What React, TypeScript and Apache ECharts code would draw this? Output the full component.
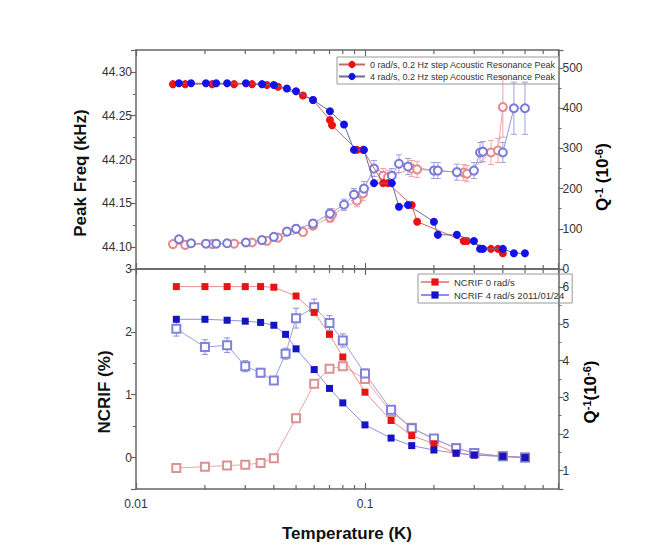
import React, { useEffect, useRef } from 'react';
import * as echarts from 'echarts';

// ---------- data ----------
const xMinorTicks = [0.02, 0.03, 0.04, 0.05, 0.06, 0.07, 0.08, 0.09, 0.2, 0.3, 0.4, 0.5, 0.6];

const legendTop = ['0 rad/s, 0.2 Hz step Acoustic Resonance Peak', '4 rad/s, 0.2 Hz step Acoustic Resonance Peak'];
const legendBottom = ['NCRIF 0 rad/s', 'NCRIF 4 rad/s 2011/01/24'];

// top panel, 0 rad/s
const topRedT = [0.0145, 0.0164, 0.0215, 0.0268, 0.0321, 0.0373, 0.0417, 0.0536, 0.0593, 0.0703, 0.0718, 0.0923, 0.098, 0.12, 0.126, 0.16, 0.169, 0.27, 0.279, 0.355, 0.381, 0.4];
const topRedFreq = [44.286, 44.286, 44.286, 44.286, 44.286, 44.285, 44.283, 44.273, 44.268, 44.245, 44.239, 44.211, 44.211, 44.173, 44.173, 44.148, 44.129, 44.107, 44.107, 44.098, 44.098, 44.093];
const topRedQ = [62, 60, 62, 63, 66, 70, 78, 92, 108, 128, 135, 170, 188, 232, 228, 250, 248, 240, 237, 290, 295, 403];
const topRedQErr = [6, 6, 6, 6, 7, 7, 8, 10, 10, 12, 15, 15, 18, 18, 18, 20, 20, 20, 20, 30, 30, 75];

// top panel, 4 rad/s
const topBlueT = [0.0154, 0.0174, 0.0202, 0.0224, 0.025, 0.0302, 0.0355, 0.04, 0.0456, 0.05, 0.0593, 0.0703, 0.081, 0.0895, 0.099, 0.1095, 0.131, 0.1407, 0.1541, 0.2, 0.208, 0.252, 0.299, 0.318, 0.3275, 0.4, 0.447, 0.4996];
const topBlueFreq = [44.287, 44.287, 44.287, 44.287, 44.287, 44.287, 44.286, 44.285, 44.281, 44.278, 44.268, 44.255, 44.24, 44.211, 44.211, 44.173, 44.173, 44.146, 44.148, 44.129, 44.114, 44.114, 44.107, 44.098, 44.098, 44.098, 44.093, 44.093];
const topBlueQ = [74, 64, 63, 63, 64, 66, 72, 80, 93, 100, 113, 138, 160, 185, 200, 250, 232, 262, 255, 245, 245, 241, 245, 290, 292, 290, 400, 400];
const topBlueQErr = [8, 6, 6, 6, 6, 6, 7, 8, 9, 10, 10, 12, 14, 15, 18, 20, 18, 22, 20, 20, 20, 20, 20, 25, 25, 25, 65, 65];

// bottom panel, 0 rad/s
const botRedT = [0.015, 0.02, 0.025, 0.03, 0.035, 0.04, 0.05, 0.06, 0.07, 0.08, 0.1, 0.13, 0.16, 0.2, 0.25, 0.3, 0.4, 0.5];
const botRedN = [2.72, 2.72, 2.72, 2.72, 2.72, 2.71, 2.57, 2.31, 1.96, 1.6, 1.04, 0.59, 0.35, 0.22, 0.07, 0.04, 0.02, 0.0];
const botRedQ = [1.07, 1.11, 1.14, 1.16, 1.21, 1.34, 2.43, 3.37, 3.78, 3.85, 3.5, 2.6, 2.17, 1.85, 1.62, 1.48, 1.39, 1.36];

// bottom panel, 4 rad/s
const botBlueT = [0.015, 0.02, 0.025, 0.03, 0.035, 0.04, 0.045, 0.05, 0.06, 0.07, 0.08, 0.1, 0.13, 0.16, 0.2, 0.25, 0.3, 0.4, 0.5];
const botBlueN = [2.2, 2.2, 2.185, 2.17, 2.15, 2.105, 1.96, 1.73, 1.4, 1.1, 0.87, 0.52, 0.31, 0.19, 0.12, 0.07, 0.04, 0.02, 0.0];
const botBlueQ = [4.87, 4.37, 4.42, 3.85, 3.67, 3.46, 4.19, 5.16, 5.46, 5.03, 4.55, 3.65, 2.66, 2.16, 1.88, 1.61, 1.48, 1.39, 1.36];
const botBlueQErr = [0.2, 0.2, 0.2, 0.15, 0.12, 0.1, 0.15, 0.27, 0.22, 0.2, 0.18, 0.12, 0.08, 0.07, 0.05, 0.04, 0.03, 0.03, 0.03];

// ---------- helpers ----------
const FONT = 'Liberation Sans, Arial, Helvetica, sans-serif';
const AXIS = '#666';

const zip = (a: number[], b: number[]) => a.map((v, i) => [v, b[i]]);
const errData = (t: number[], v: number[], e: number[]) => t.map((x, i) => [x, v[i] - e[i], v[i] + e[i]]);

const errRender = (color: string) => (params: any, api: any) => {
  const x = api.value(0);
  const a = api.coord([x, api.value(1)]);
  const b = api.coord([x, api.value(2)]);
  const w = 3;
  const style = { stroke: color, lineWidth: 1 };
  return {
    type: 'group',
    children: [
      { type: 'line', shape: { x1: a[0], y1: a[1], x2: b[0], y2: b[1] }, style },
      { type: 'line', shape: { x1: a[0] - w, y1: a[1], x2: a[0] + w, y2: a[1] }, style },
      { type: 'line', shape: { x1: b[0] - w, y1: b[1], x2: b[0] + w, y2: b[1] }, style },
    ],
  };
};

const minorRender = (params: any, api: any) => {
  const cs = params.coordSys;
  const px = api.coord([api.value(0), api.value(1)])[0];
  const style = { stroke: AXIS, lineWidth: 1.2 };
  return {
    type: 'group',
    children: [
      { type: 'line', shape: { x1: px, y1: cs.y + cs.height, x2: px, y2: cs.y + cs.height - 4 }, style },
      { type: 'line', shape: { x1: px, y1: cs.y, x2: px, y2: cs.y + 4 }, style },
    ],
  };
};

const isMult = (v: number, step: number) => Math.abs(v / step - Math.round(v / step)) < 1e-6;

const xAxisBase = (grid: number, pos: 'top' | 'bottom', labels: boolean) => ({
  type: 'log',
  logBase: 10,
  gridIndex: grid,
  position: pos,
  min: 0.01,
  max: 0.7,
  axisLine: { show: true, onZero: false, lineStyle: { color: AXIS, width: 1.5 } },
  axisTick: { show: true, inside: true, length: 6, lineStyle: { color: AXIS, width: 1.2 } },
  splitLine: { show: false },
  axisLabel: {
    show: labels,
    fontSize: 12,
    color: '#333',
    fontFamily: FONT,
    margin: 9,
    formatter: (v: number) => {
      const e = Math.log10(v);
      if (Math.abs(e - Math.round(e)) < 1e-6) {
        return Math.round(e) === -2 ? '0.01' : Math.round(e) === -1 ? '0.1' : String(Math.pow(10, Math.round(e)));
      }
      return '';
    },
  },
});

const yAxisBase = (grid: number, pos: 'left' | 'right', min: number, max: number, step: number, fmt: (v: number) => string) => ({
  type: 'value',
  gridIndex: grid,
  position: pos,
  min,
  max,
  splitNumber: Math.round((max - min) / step),
  axisLine: { show: true, lineStyle: { color: AXIS, width: 1.5 } },
  axisTick: { show: true, inside: false, length: 5, lineStyle: { color: AXIS, width: 1.2 } },
  minorTick: { show: true, splitNumber: 2, length: 3, lineStyle: { color: AXIS, width: 1 } },
  splitLine: { show: false },
  axisLabel: {
    fontSize: 12,
    color: '#333',
    fontFamily: FONT,
    margin: 4,
    formatter: (v: number) => (isMult(v, step) ? fmt(v) : ''),
  },
});

const titleRich = {
  b: { fontSize: 17, fontWeight: 'bold', fontFamily: FONT, color: '#111' },
  s: { fontSize: 11, fontWeight: 'bold', fontFamily: FONT, color: '#111', verticalAlign: 'top', padding: [0, 0, 6, 0] },
};

const openLine = (name: string, xi: number, yi: number, data: number[][], symbol: string, color: string, lineColor: string) => ({
  type: 'line', name, xAxisIndex: xi, yAxisIndex: yi, data,
  symbol, symbolSize: 8, showAllSymbol: true, color,
  itemStyle: { color, borderWidth: 1.2 },
  lineStyle: { color: lineColor, width: 1 }, z: 3,
});

const filledLine = (name: string, xi: number, yi: number, data: number[][], symbol: string, size: number, color: string, lineColor: string, z: number) => ({
  type: 'line', name, xAxisIndex: xi, yAxisIndex: yi, data,
  symbol, symbolSize: size, showAllSymbol: true, color,
  itemStyle: { color },
  lineStyle: { color: lineColor, width: 1 }, z,
});

export default function App() {
  const ref = useRef<HTMLDivElement>(null);
  useEffect(() => {
    document.body.style.margin = '0';
    if (!ref.current) return;
    const chart = echarts.init(ref.current, undefined, { renderer: 'svg' });

    const option: any = {
      animation: false,
      backgroundColor: '#ffffff',
      textStyle: { fontFamily: FONT },
      grid: [
        { left: 136, top: 50, width: 422.5, height: 219 },
        { left: 136, top: 269, width: 422.5, height: 220 },
      ],
      xAxis: [
        xAxisBase(0, 'bottom', false),
        xAxisBase(0, 'top', false),
        xAxisBase(1, 'bottom', true),
        xAxisBase(1, 'top', false),
      ],
      yAxis: [
        yAxisBase(0, 'left', 44.075, 44.325, 0.05, (v) => v.toFixed(2)),
        yAxisBase(0, 'right', 0, 545, 100, (v) => String(Math.round(v))),
        yAxisBase(1, 'left', -0.5, 3, 1, (v) => String(Math.round(v))),
        yAxisBase(1, 'right', 0.5, 6.5, 1, (v) => String(Math.round(v))),
      ],
      legend: [
        {
          data: legendTop,
          left: 337,
          top: 57,
          orient: 'vertical',
          borderColor: '#999',
          borderWidth: 1,
          padding: [3, 3, 3, 1],
          itemGap: 3,
          itemWidth: 26,
          itemHeight: 9,
          textStyle: { fontSize: 9, color: '#333', fontFamily: FONT },
        },
        {
          data: legendBottom,
          left: 418,
          top: 274,
          orient: 'vertical',
          borderColor: '#999',
          borderWidth: 1,
          padding: [3, 8, 3, 2],
          itemGap: 3,
          itemWidth: 28,
          itemHeight: 9,
          textStyle: { fontSize: 9.5, color: '#333', fontFamily: FONT },
        },
      ],
      graphic: [
        { type: 'text', x: 80, y: 173, rotation: Math.PI / 2, style: { text: 'Peak Freq (kHz)', font: `bold 17px ${FONT}`, fill: '#111', align: 'center', verticalAlign: 'middle', textAlign: 'center', textVerticalAlign: 'middle' } },
        { type: 'text', x: 104, y: 392, rotation: Math.PI / 2, style: { text: 'NCRIF (%)', font: `bold 17px ${FONT}`, fill: '#111', align: 'center', verticalAlign: 'middle', textAlign: 'center', textVerticalAlign: 'middle' } },
        { type: 'text', x: 602, y: 177, rotation: Math.PI / 2, style: { text: '{b|Q}{s|-1}{b| (10}{s|-6}{b|)}', rich: titleRich, align: 'center', verticalAlign: 'middle', textAlign: 'center', textVerticalAlign: 'middle' } },
        { type: 'text', x: 590, y: 392, rotation: Math.PI / 2, style: { text: '{b|Q}{s|-1}{b|(10}{s|-6}{b|)}', rich: titleRich, align: 'center', verticalAlign: 'middle', textAlign: 'center', textVerticalAlign: 'middle' } },
        { type: 'text', x: 347, y: 533, style: { text: 'Temperature (K)', font: `bold 17px ${FONT}`, fill: '#111', align: 'center', verticalAlign: 'middle', textAlign: 'center', textVerticalAlign: 'middle' } },
      ],
      series: [
        // minor x ticks
        { type: 'custom', xAxisIndex: 0, yAxisIndex: 0, silent: true, renderItem: minorRender, data: xMinorTicks.map((t) => [t, 44.2]), encode: { x: 0, y: 1 }, z: 1 },
        { type: 'custom', xAxisIndex: 2, yAxisIndex: 2, silent: true, renderItem: minorRender, data: xMinorTicks.map((t) => [t, 1]), encode: { x: 0, y: 1 }, z: 1 },

        // ---- top panel: Q^-1 open circles ----
        { type: 'custom', name: 'errRedTop', xAxisIndex: 0, yAxisIndex: 1, silent: true, renderItem: errRender('#eaa6a6'), data: errData(topRedT, topRedQ, topRedQErr), encode: { x: 0, y: [1, 2] }, z: 2 },
        { type: 'custom', name: 'errBlueTop', xAxisIndex: 0, yAxisIndex: 1, silent: true, renderItem: errRender('#a0a0e2'), data: errData(topBlueT, topBlueQ, topBlueQErr), encode: { x: 0, y: [1, 2] }, z: 2 },
        openLine('Q 0 rad/s', 0, 1, zip(topRedT, topRedQ), 'emptyCircle', '#e68a8a', '#eaa8a8'),
        openLine('Q 4 rad/s', 0, 1, zip(topBlueT, topBlueQ), 'emptyCircle', '#7a7ad8', '#9696da'),
        // ---- top panel: peak frequency filled circles ----
        filledLine(legendTop[0], 0, 0, zip(topRedT, topRedFreq), 'circle', 8, '#ee1111', '#c86868', 4),
        filledLine(legendTop[1], 0, 0, zip(topBlueT, topBlueFreq), 'circle', 8, '#1212e6', '#6a6a9a', 5),

        // ---- bottom panel: Q^-1 open squares ----
        { type: 'custom', name: 'errBlueBot', xAxisIndex: 2, yAxisIndex: 3, silent: true, renderItem: errRender('#8e8eda'), data: errData(botBlueT, botBlueQ, botBlueQErr), encode: { x: 0, y: [1, 2] }, z: 2 },
        openLine('Q bottom 0 rad/s', 2, 3, zip(botRedT, botRedQ), 'emptyRect', '#dc9292', '#e6a8a8'),
        openLine('Q bottom 4 rad/s', 2, 3, zip(botBlueT, botBlueQ), 'emptyRect', '#8282da', '#9e9eda'),
        // ---- bottom panel: NCRIF filled squares ----
        filledLine(legendBottom[0], 2, 2, zip(botRedT, botRedN), 'rect', 7, '#e81414', '#ee8e8e', 4),
        filledLine(legendBottom[1], 2, 2, zip(botBlueT, botBlueN), 'rect', 7, '#1414c4', '#8e8ee4', 4),
      ],
    };

    chart.setOption(option);
    return () => chart.dispose();
  }, []);

  return <div ref={ref} style={{ width: 664, height: 552, background: '#fff' }} />;
}
